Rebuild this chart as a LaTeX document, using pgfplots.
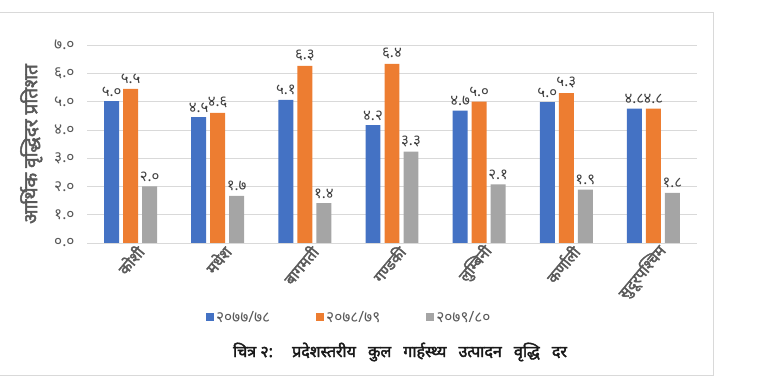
\documentclass[border=0pt]{standalone}
\usepackage{fontspec}
\setmainfont[Script=Devanagari, AutoFakeBold=2.5]{Noto Sans}
\usepackage{pgfplots}
\pgfplotsset{compat=1.18}
\definecolor{cblue}{HTML}{4472C4}
\definecolor{corange}{HTML}{ED7D31}
\definecolor{cgray}{HTML}{A5A5A5}
\definecolor{ctext}{HTML}{595959}
\definecolor{cgrid}{HTML}{D9D9D9}
\begin{document}
\begin{tikzpicture}
\path[use as bounding box] (0pt,0pt) rectangle (768pt,380pt);
\draw[cgrid] (-5pt,5pt) rectangle (713pt,368pt);
\begin{axis}[
  at={(87pt,137pt)}, anchor=south west,
  scale only axis, width=610pt, height=198pt,
  xmin=-0.5, xmax=6.5, ymin=0, ymax=7,
  ytick={0,1,2,3,4,5,6,7},
  yticklabels={०.०,१.०,२.०,३.०,४.०,५.०,६.०,७.०},
  xtick={0,1,2,3,4,5,6},
  xticklabels={कोशी,मधेश,बागमती,गण्डकी,लुम्बिनी,कर्णाली,सुदूरपश्चिम},
  axis line style={draw=none},
  tick style={draw=none},
  ymajorgrids, major grid style={cgrid, line width=0.7pt},
  yticklabel style={font=\fontsize{15.5}{16}\selectfont, text=ctext, xshift=-9pt},
  xticklabel style={font=\fontsize{15.5}{16}\selectfont\bfseries, text=ctext, rotate=50, anchor=east, xshift=9pt, yshift=-8pt},
  ylabel={आर्थिक वृद्धिदर प्रतिशत},
  ylabel style={font=\fontsize{19}{20}\selectfont\bfseries, text=ctext, yshift=5pt},
  ybar, bar width=0.172,
  point meta=explicit symbolic,
  nodes near coords,
  every node near coord/.append style={font=\fontsize{15}{16}\selectfont, text=black!75, inner sep=1.5pt, yshift=3pt},
  legend style={at={(0.43,-0.379)}, anchor=center, draw=none, legend columns=3,
    font=\fontsize{15.5}{16}\selectfont, text=ctext,
    /tikz/every even column/.append style={column sep=44pt}},
  legend image code/.code={\fill[#1] (0pt,-3pt) rectangle (8pt,5pt);},
]
\addplot[fill=cblue, draw=none, bar shift=-0.218] coordinates {
 (0,5.02) [५.०] (1,4.45) [४.५] (2,5.06) [५.१] (3,4.17) [४.२] (4,4.68) [४.७] (5,4.98) [५.०] (6,4.75) [४.८]};
\addplot[fill=corange, draw=none, bar shift=0] coordinates {
 (0,5.45) [५.५] (1,4.60) [४.६] (2,6.26) [६.३] (3,6.33) [६.४] (4,5.0) [५.०] (5,5.3) [५.३] (6,4.75) [४.८]};
\addplot[fill=cgray, draw=none, bar shift=0.218] coordinates {
 (0,2.0) [२.०] (1,1.67) [१.७] (2,1.41) [१.४] (3,3.23) [३.३] (4,2.07) [२.१] (5,1.89) [१.९] (6,1.77) [१.८]};
\legend{२०७७/७८,२०७८/७९,२०७९/८०}
\end{axis}
\node[font=\fontsize{16}{17}\selectfont\bfseries, text=black!90] at (400pt,28pt) {चित्र २:\hspace{1.2em}प्रदेशस्तरीय\hspace{0.5em} कुल\hspace{0.5em} गार्हस्थ्य\hspace{0.5em} उत्पादन\hspace{0.5em} वृद्धि\hspace{0.5em} दर};
\end{tikzpicture}
\end{document}
